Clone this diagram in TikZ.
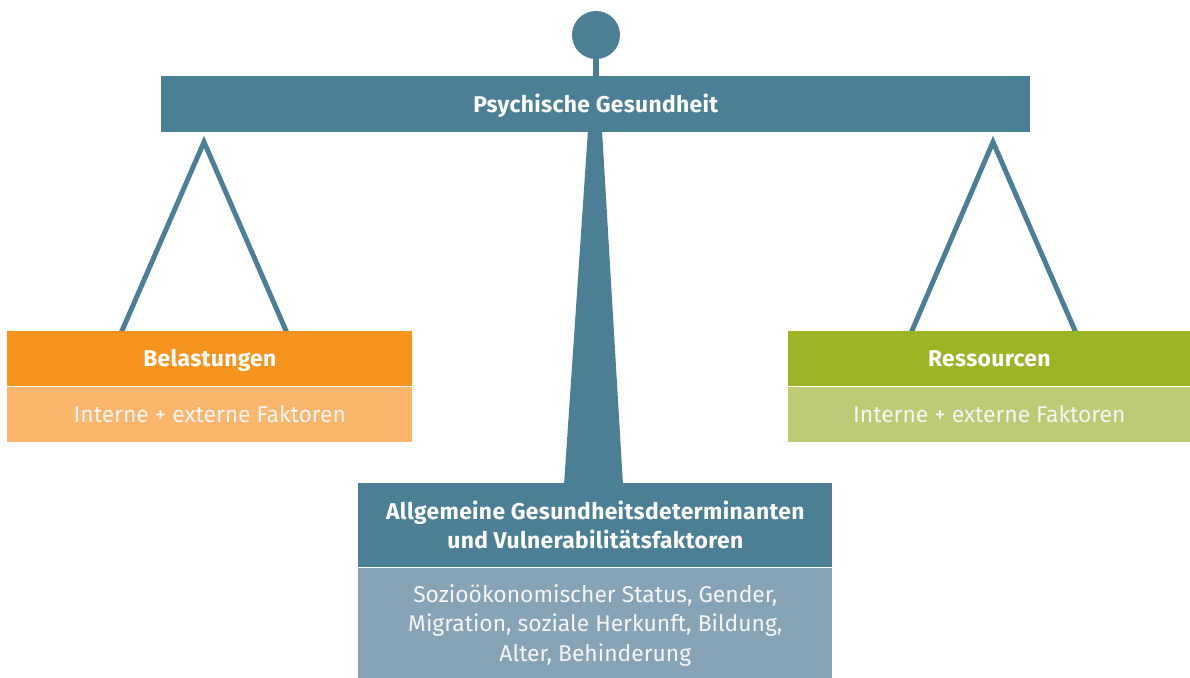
\documentclass[tikz,border=0pt]{standalone}
\usepackage{fontspec}
\setmainfont{Fira Sans}
\usetikzlibrary{positioning}
\definecolor{scaleblue}{HTML}{4A7F96}
\definecolor{scalegrey}{HTML}{86A4B5}
\definecolor{loadorange}{HTML}{F7941D}
\definecolor{loadlight}{HTML}{FBB66B}
\definecolor{resgreen}{HTML}{9CB426}
\definecolor{reslight}{HTML}{BCCB74}

\begin{document}
\begin{tikzpicture}[x=0.02cm,y=-0.02cm,
    head/.style={fill=#1,text=white,inner sep=0pt,anchor=north west,
      font=\bfseries\fontsize{13}{16.5}\selectfont\addfontfeature{LetterSpace=1.5},align=center},
    body/.style={fill=#1,text=white!92!gray,inner sep=0pt,
      font=\fontsize{13}{16.7}\selectfont,align=center,text depth=0pt},
    oneline/.style={text height=9pt,text depth=0pt},
    rope/.style={scaleblue,line width=2.8pt,line join=miter}]
    \useasboundingbox (0,0) rectangle (1190,677);
    % Waagebalken
    \node[circle,fill=scaleblue,minimum size=0.96cm,inner sep=0pt] (knob) at (596,35) {};
    \fill[scaleblue] (593,50) rectangle (599,80);
    \node[head=scaleblue,oneline,minimum width=17.38cm,minimum height=1.12cm] (beam) at (161,76) {Psychische Gesundheit};
    \fill[scaleblue] (588,130) -- (602,130) -- (623,485) -- (564,485) -- cycle;
    % Aufhaengungen
    \coordinate (lapex) at (204,142);
    \coordinate (rapex) at (993,142);
    \draw[rope] (121,333) -- (lapex) -- (287,333);
    \draw[rope] (911,333) -- (rapex) -- (1076,333);
    % Schalen
    \node[head=loadorange,oneline,minimum width=8.1cm,minimum height=1.1cm] (load) at (7,331) {Belastungen};
    \node[body=loadlight,oneline,minimum width=8.1cm,minimum height=1.1cm,below=0pt of load] (loadf) {Interne + externe Faktoren};
    \node[head=resgreen,oneline,minimum width=8.04cm,minimum height=1.1cm] (res) at (788,331) {Ressourcen};
    \node[body=reslight,oneline,minimum width=8.04cm,minimum height=1.1cm,below=0pt of res] (resf) {Interne + externe Faktoren};
    % Sockel
    \node[head=scaleblue,minimum width=9.48cm,minimum height=1.68cm] (base) at (358,483)
      {Allgemeine Gesundheitsdeterminanten\\und Vulnerabilitätsfaktoren};
    \node[body=scalegrey,minimum width=9.48cm,minimum height=2.2cm,below=0pt of base] (basef)
      {Sozioökonomischer Status, Gender,\\Migration, soziale Herkunft, Bildung,\\Alter, Behinderung};
\end{tikzpicture}
\end{document}
